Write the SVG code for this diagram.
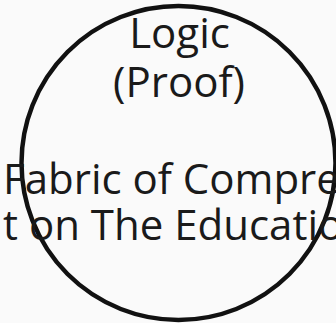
<svg xmlns="http://www.w3.org/2000/svg" width="336" height="323" viewBox="0 0 336 323">
<style>
.t{font-family:"Open Sans","Noto Sans",sans-serif;font-size:42px;fill:#1a1a1a}
.c{text-anchor:middle}
</style>
<rect width="336" height="323" fill="#fafafa"/>
<g id="node-logic">
<circle cx="178.5" cy="163" r="157" fill="none" stroke="#111111" stroke-width="4.5"/>
<text class="t c" x="179.5" y="48">Logic</text>
<text class="t c" x="179" y="97">(Proof)</text>
<text class="t" x="3" y="194">Fabric of Comprehension</text>
<text class="t" x="3" y="240">t on The Education</text>
</g>
</svg>
